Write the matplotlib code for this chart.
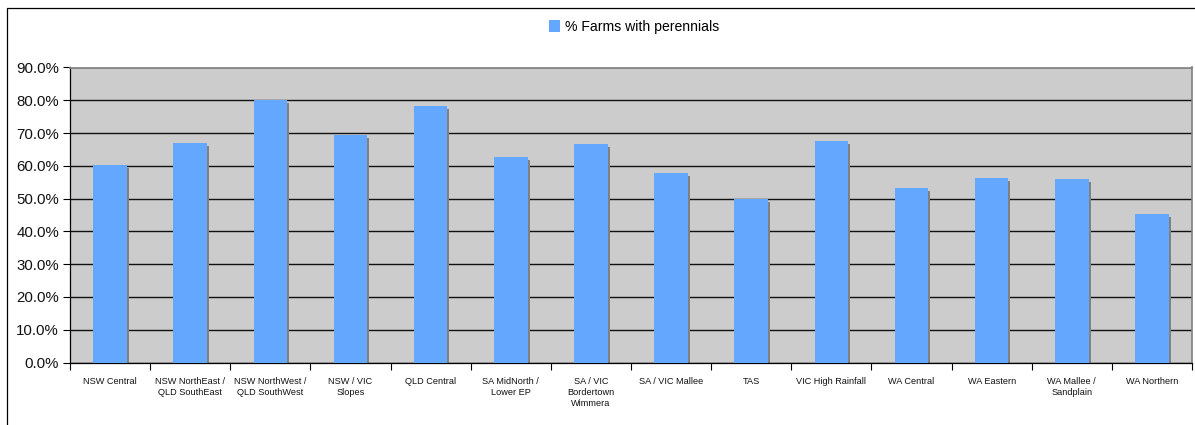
import matplotlib
matplotlib.use("Agg")
import matplotlib.pyplot as plt
from matplotlib.patches import Patch, Rectangle
from matplotlib.transforms import ScaledTranslation
from matplotlib.ticker import FixedLocator, PercentFormatter

plt.rcParams['font.family'] = ['Liberation Sans', 'DejaVu Sans']

regions = [
    "NSW Central",
    "NSW NorthEast /\nQLD SouthEast",
    "NSW NorthWest /\nQLD SouthWest",
    "NSW / VIC\nSlopes",
    "QLD Central",
    "SA MidNorth /\nLower EP",
    "SA / VIC\nBordertown\nWimmera",
    "SA / VIC Mallee",
    "TAS",
    "VIC High Rainfall",
    "WA Central",
    "WA Eastern",
    "WA Mallee /\nSandplain",
    "WA Northern",
]
pct_perennials = [60.2, 67.0, 80.1, 69.5, 78.3, 62.7, 66.7, 57.9, 49.9, 67.6, 53.3, 56.3, 56.0, 45.3]
series_name = "% Farms with perennials"
y_ticks = [0, 10, 20, 30, 40, 50, 60, 70, 80, 90]

W, H = 1195, 425
fig = plt.figure(figsize=(W / 100, H / 100), dpi=100)

# outer chart frame (runs off the right and bottom edges)
fig.patches.append(Rectangle((7 / W, -0.1), 1.2, 1 - 8 / H + 0.1,
                             transform=fig.transFigure, fill=False,
                             edgecolor='black', linewidth=0.9))

left, right = 70 / W, 1192 / W
bottom, top = 1 - 362.5 / H, 1 - 67.5 / H
ax = fig.add_axes([left, bottom, right - left, top - bottom])
ax.set_facecolor('#cccccc')

x = list(range(len(regions)))
bar_w = 0.42

# drop shadow behind each bar, nudged right and down
shadows = ax.bar(x, pct_perennials, width=bar_w, color='#808080', zorder=2)
shift = ScaledTranslation(2 / 100, -3 / 100, fig.dpi_scale_trans)
for p in shadows:
    p.set_transform(ax.transData + shift)

ax.bar(x, pct_perennials, width=bar_w, color='#63a8fe', zorder=3)

ax.set_xlim(-0.5, len(regions) - 0.5)
ax.set_ylim(0, 90)

ax.yaxis.set_major_locator(FixedLocator(y_ticks))
ax.yaxis.set_major_formatter(PercentFormatter(decimals=1))
ax.yaxis.grid(True, color='#111111', linewidth=1.0, zorder=1)
ax.set_axisbelow(True)

ax.set_xticks(x)
ax.set_xticklabels(regions, fontsize=6.6, linespacing=1.3, color='#111111')
ax.xaxis.set_minor_locator(FixedLocator([i - 0.5 for i in range(len(regions) + 1)]))
ax.tick_params(axis='x', which='major', length=0, pad=10.5)
ax.tick_params(axis='x', which='minor', length=5, width=0.8, color='black')
ax.tick_params(axis='y', length=5, width=0.8, color='black', pad=3,
               labelsize=10.8, labelcolor='#111111')

for side in ('top', 'right'):
    ax.spines[side].set_color('#808080')
    ax.spines[side].set_linewidth(1.2)
for side in ('left', 'bottom'):
    ax.spines[side].set_color('black')
    ax.spines[side].set_linewidth(0.9)

handle = Patch(facecolor='#63a8fe', edgecolor='none')
fig.legend(handles=[handle], labels=[series_name], loc='center',
           bbox_to_anchor=(634 / W, 1 - 27 / H), frameon=False,
           fontsize=10.1, handlelength=0.8, handleheight=0.9,
           handletextpad=0.3, borderpad=0, borderaxespad=0)

fig.savefig("out.png", dpi=100)
